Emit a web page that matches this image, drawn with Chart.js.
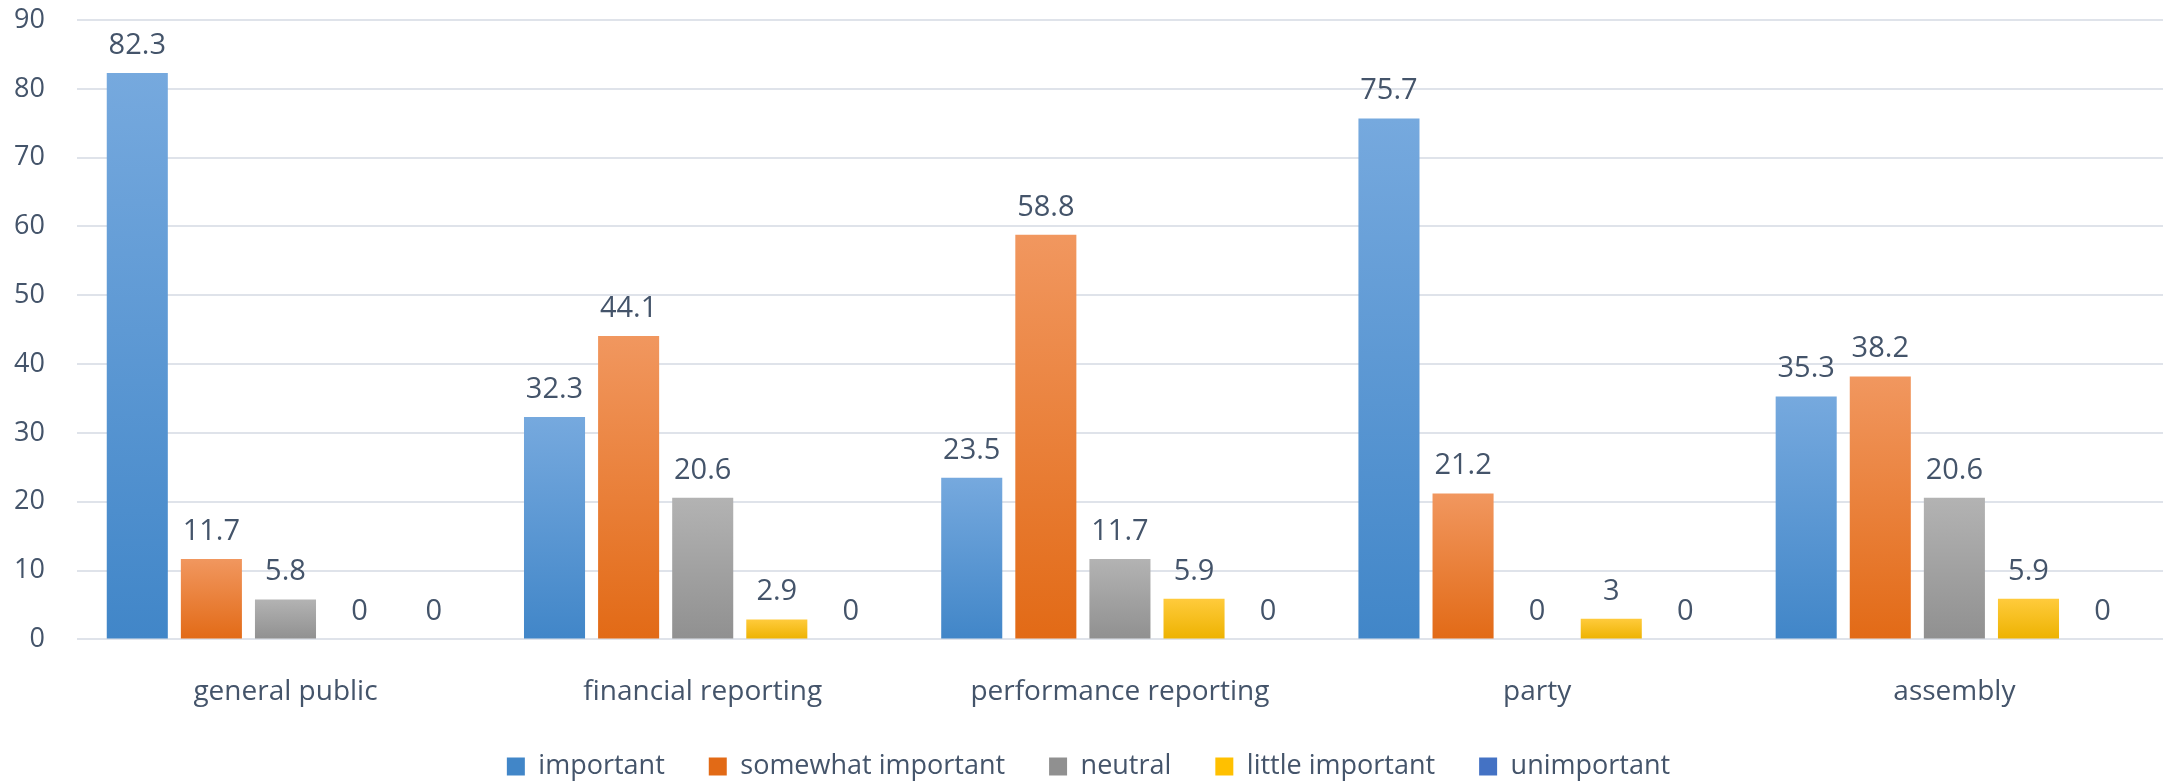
<!DOCTYPE html>
<html>
<head>
<meta charset="utf-8">
<script src="https://cdn.jsdelivr.net/npm/chart.js@4"></script>
<style>
  html, body { margin: 0; padding: 0; background: #fff; }
  #wrap { width: 2165px; height: 781px; position: relative; }
</style>
</head>
<body>
<div id="wrap"><canvas id="chartCanvas"></canvas></div>
<script>
const categories = ["general public", "financial reporting", "performance reporting", "party", "assembly"];
const important = [82.3, 32.3, 23.5, 75.7, 35.3];
const somewhatImportant = [11.7, 44.1, 58.8, 21.2, 38.2];
const neutral = [5.8, 20.6, 11.7, 0, 20.6];
const littleImportant = [0, 2.9, 5.9, 3, 5.9];
const unimportant = [0, 0, 0, 0, 0];
const yTicks = [0, 10, 20, 30, 40, 50, 60, 70, 80, 90];

const textColor = "#44546A";
const fontFamily = '"Open Sans", "DejaVu Sans", sans-serif';

// vertical gradient per bar, light at top, dark at bottom
function barGradient(top, bottom, mid) {
  return function (c) {
    const chart = c.chart;
    if (c.type !== "data" || !chart.chartArea) return mid;
    const y = chart.scales.y;
    const y0 = y.getPixelForValue(0);
    const y1 = y.getPixelForValue(c.raw);
    if (Math.abs(y0 - y1) < 1) return mid;
    const g = chart.ctx.createLinearGradient(0, y1, 0, y0);
    g.addColorStop(0, top);
    g.addColorStop(1, bottom);
    return g;
  };
}

const valueLabels = {
  id: "valueLabels",
  afterDatasetsDraw(chart) {
    const ctx = chart.ctx;
    ctx.save();
    ctx.font = "29px " + fontFamily;
    ctx.fillStyle = textColor;
    ctx.textAlign = "center";
    ctx.textBaseline = "alphabetic";
    chart.data.datasets.forEach((ds, i) => {
      chart.getDatasetMeta(i).data.forEach((bar, j) => {
        ctx.fillText(String(ds.data[j]), bar.x, bar.y - 19);
      });
    });
    ctx.restore();
  }
};

// keep legend tight to the bottom edge while using wide item spacing
const legendFit = {
  id: "legendFit",
  beforeInit(chart) {
    const fit = chart.legend.fit;
    chart.legend.fit = function () {
      fit.call(this);
      this.height = 72;
    };
  }
};

const ctx = document.getElementById("chartCanvas").getContext("2d");
const chart = new Chart(ctx, {
  type: "bar",
  data: {
    labels: categories,
    datasets: [
      { label: "important", data: important,
        backgroundColor: barGradient("#76A9DE", "#4186C8", "#5B9BD5") },
      { label: "somewhat important", data: somewhatImportant,
        backgroundColor: barGradient("#F1975F", "#E26A16", "#ED7D31") },
      { label: "neutral", data: neutral,
        backgroundColor: barGradient("#B3B3B3", "#909090", "#A5A5A5") },
      { label: "little important", data: littleImportant,
        backgroundColor: barGradient("#FFCB3C", "#EDB200", "#FFC000") },
      { label: "unimportant", data: unimportant,
        backgroundColor: barGradient("#5A85D0", "#2F5FB3", "#4472C4") }
    ]
  },
  options: {
    animation: false,
    responsive: true,
    maintainAspectRatio: false,
    layout: { padding: { top: 20, left: 14, right: 2, bottom: 0 } },
    datasets: { bar: { categoryPercentage: 0.888, barPercentage: 0.824, borderWidth: 0 } },
    scales: {
      x: {
        grid: { color: "rgba(0,0,0,0)", tickColor: "rgba(0,0,0,0)", drawTicks: true, tickLength: 36 },
        border: { display: false },
        ticks: { color: textColor, font: { family: fontFamily, size: 28 }, padding: 0, maxRotation: 0 }
      },
      y: {
        min: 0,
        max: 90,
        afterBuildTicks: axis => { axis.ticks = yTicks.map(v => ({ value: v })); },
        grid: { color: "#DFE3EA", lineWidth: 2, drawTicks: true, tickLength: 32, tickColor: "rgba(0,0,0,0)" },
        border: { display: false },
        ticks: { color: textColor, font: { family: fontFamily, size: 27 }, padding: 0 }
      }
    },
    plugins: {
      legend: {
        position: "bottom",
        labels: {
          boxWidth: 18,
          boxHeight: 18,
          padding: 44,
          color: textColor,
          font: { family: fontFamily, size: 27 }
        }
      },
      tooltip: { enabled: false }
    }
  },
  plugins: [valueLabels, legendFit]
});
</script>
</body>
</html>
